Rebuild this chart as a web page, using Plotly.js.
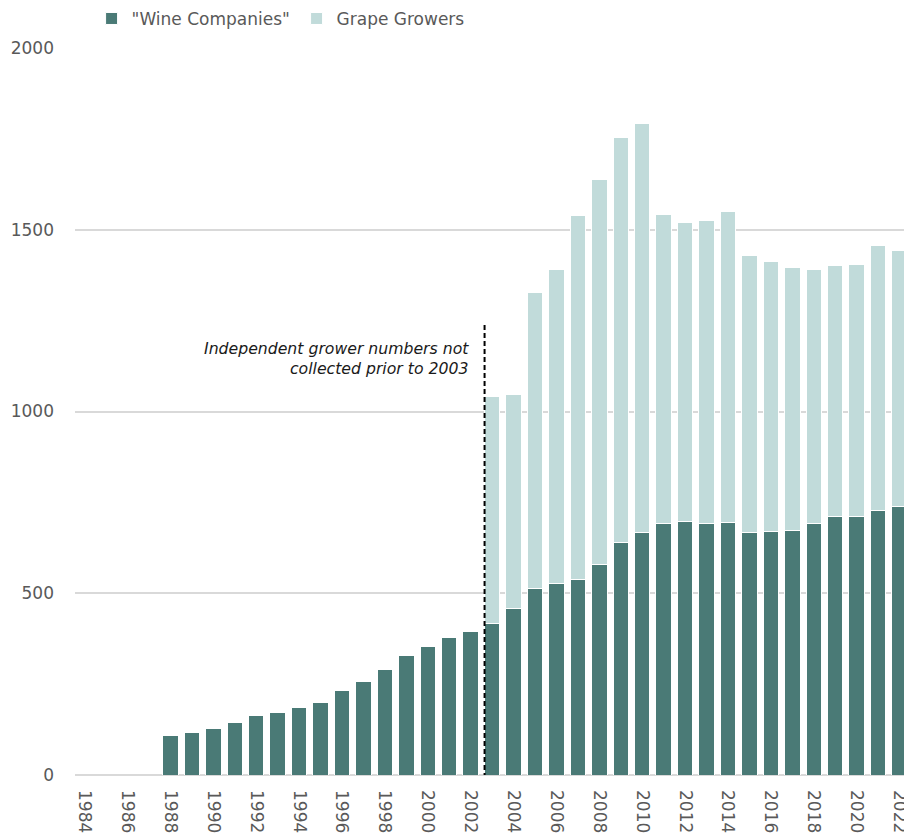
<!DOCTYPE html>
<html>
<head>
<meta charset="utf-8">
<script src="https://cdn.plot.ly/plotly-3.0.1.min.js"></script>
<style>
  html, body { margin: 0; padding: 0; background: #ffffff; overflow: hidden; }
  #chart { width: 904px; height: 833px; }
</style>
</head>
<body>
<div id="chart"></div>
<script>
// ---- Data ----
const years = [1984,1985,1986,1987,1988,1989,1990,1991,1992,1993,1994,1995,1996,1997,1998,1999,2000,2001,2002,2003,2004,2005,2006,2007,2008,2009,2010,2011,2012,2013,2014,2015,2016,2017,2018,2019,2020,2021,2022];
const wineCompanies = [null,null,null,null,108,118,127,145,163,171,186,200,233,258,290,330,353,378,394,417,458,512,526,538,580,639,666,693,698,693,695,668,670,673,693,711,712,727,739];
const grapeGrowers = [null,null,null,null,null,null,null,null,null,null,null,null,null,null,null,null,null,null,null,623,589,816,864,1002,1058,1114,1127,850,822,832,855,761,744,724,697,690,692,730,704];
const tickYears = [1984,1986,1988,1990,1992,1994,1996,1998,2000,2002,2004,2006,2008,2010,2012,2014,2016,2018,2020,2022];
const seriesNames = ['"Wine Companies"', 'Grape Growers'];
const noteLines = ['Independent grower numbers not', 'collected prior to 2003'];
const noteYear = 2002.65;
const noteTop = 1243;

const FONT = 'DejaVu Sans, Open Sans, sans-serif';
const darkCol = '#4a7a76';
const lightCol = '#c1dbda';

const traces = [
  {
    type: 'bar', name: seriesNames[0], x: years, y: wineCompanies,
    marker: { color: darkCol, line: { color: '#ffffff', width: 1 } },
    hoverinfo: 'x+y+name'
  },
  {
    type: 'bar', name: seriesNames[1], x: years, y: grapeGrowers,
    marker: { color: lightCol, line: { color: '#ffffff', width: 1 } },
    hoverinfo: 'x+y+name'
  }
];

const layout = {
  width: 904, height: 833,
  margin: { l: 75, r: 0, t: 48, b: 58, pad: 0 },
  paper_bgcolor: '#ffffff', plot_bgcolor: '#ffffff',
  barmode: 'stack', bargap: 0.28,
  font: { family: FONT, color: '#595959', size: 16 },
  showlegend: true,
  legend: {
    orientation: 'h', x: 0.02, xanchor: 'left', y: 1.04, yanchor: 'middle',
    yref: 'paper', font: { family: FONT, size: 17, color: '#595959' },
    itemwidth: 30, entrywidth: 160, traceorder: 'normal', bgcolor: 'rgba(0,0,0,0)'
  },
  xaxis: {
    type: 'linear', range: [1983.55, 2022.21], tickmode: 'array', tickvals: tickYears,
    ticktext: tickYears.map(String), tickangle: 90, showgrid: false, zeroline: false,
    showline: false, ticks: '', ticklabelstandoff: 14, ticklabeloverflow: 'allow',
    tickfont: { family: FONT, size: 17, color: '#595959' }, fixedrange: true
  },
  yaxis: {
    range: [0, 2000], tickvals: [0, 500, 1000, 1500, 2000], showgrid: true,
    gridcolor: '#d9d9d9', gridwidth: 1.5, zeroline: true, zerolinecolor: '#d9d9d9',
    zerolinewidth: 2, showline: false, ticks: '', ticklabelstandoff: 20,
    tickfont: { family: FONT, size: 17, color: '#595959' }, fixedrange: true
  },
  shapes: [
    { type: 'line', xref: 'x', yref: 'y', x0: noteYear, x1: noteYear, y0: -8, y1: noteTop,
      line: { color: '#000000', width: 2, dash: '5px,3px' } }
  ],
  annotations: [
    { xref: 'x', yref: 'y', x: noteYear, y: 1145, xanchor: 'right', yanchor: 'middle',
      xshift: -14, align: 'right', showarrow: false,
      text: '<i>' + noteLines.join('<br>') + '</i>',
      font: { family: FONT, size: 15.7, color: '#1a1a1a' } }
  ]
};

Plotly.newPlot('chart', traces, layout, { displayModeBar: false, staticPlot: false });
</script>
</body>
</html>
